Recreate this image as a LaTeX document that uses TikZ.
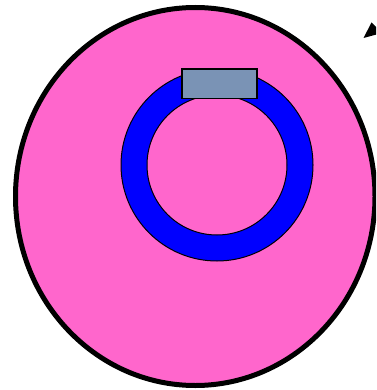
\documentclass[tikz,border=0pt]{standalone}
\usepackage{tikz}
\definecolor{cellpink}{HTML}{FF66CC}
\definecolor{ringblue}{HTML}{0000FF}
\definecolor{boxgray}{HTML}{7A93B5}
\begin{document}
\begin{tikzpicture}[x=1pt,y=-1pt,
  cell/.style={fill=cellpink,draw=black,line width=5pt},
  ring/.style={fill=ringblue,draw=black,line width=1pt,even odd rule},
  boxcap/.style={fill=boxgray,draw=black,line width=1.5pt}]
\useasboundingbox (0,0) rectangle (376,390);
\clip (0,0) rectangle (376,390);
\draw[cell] (195.25,196.5) ellipse [x radius=179.75, y radius=189];
\draw[ring] (217,165) circle [radius=96] (217,165) circle [radius=70];
\draw[boxcap] (182,69) rectangle (257,98.5);
\fill[black] (371.5,22.5) -- (363.5,38) -- (382,33) -- cycle;
\end{tikzpicture}
\end{document}
